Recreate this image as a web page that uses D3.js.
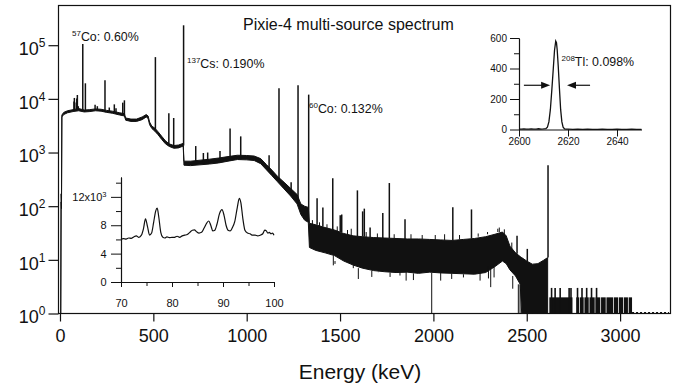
<!DOCTYPE html>
<html>
<head>
<meta charset="utf-8">
<script src="https://cdn.jsdelivr.net/npm/d3@7"></script>
<style>
body { margin: 0; background: #fff; }
svg { font-family: "Liberation Sans", Arial, sans-serif; }
</style>
</head>
<body>
<div id="chart"></div>
<script>
// Main spectrum continuum, read as a low / high envelope (keV, counts)
const bandE = [4, 6, 8, 10, 20, 40, 70, 100, 130, 160, 190, 220, 250, 280, 320, 345, 352, 380, 410, 440,
    462, 472, 480, 492, 508, 525, 545, 565, 585, 610, 635, 660, 664, 700, 750, 800, 850, 900, 950, 1000,
    1040, 1075, 1105, 1135, 1165, 1200, 1235, 1270, 1290, 1310, 1330, 1336, 1370, 1420, 1470, 1520, 1570, 1620, 1680, 1740,
    1800, 1860, 1920, 1980, 2040, 2100, 2160, 2220, 2280, 2330, 2370, 2390, 2410, 2440, 2465, 2473, 2500, 2530, 2560, 2590, 2612];
const bandLo = [1, 120, 90, 4600, 5100, 5500, 5800, 6000, 5700, 5800, 6000, 5900, 5600, 5400, 5000, 4800, 4000, 3800, 3800, 4100,
    4600, 4300, 3300, 2800, 2500, 2150, 1750, 1450, 1300, 1200, 1220, 1320, 580, 570, 590, 610, 640, 690, 740, 730,
    710, 620, 480, 370, 285, 210, 155, 110, 70, 55, 50, 17, 15, 13.5, 12, 9.5, 8, 7, 6.3, 6,
    5.8, 5.9, 5.6, 5.9, 5.7, 5.6, 5.5, 5.4, 5.8, 7.5, 9.5, 8.5, 6.5, 5, 3.5, 1, 1, 1, 1, 1, 1];
const bandHi = [1, 170, 120, 5000, 5600, 6000, 6300, 6600, 6200, 6300, 6500, 6400, 6100, 5900, 5500, 5300, 4400, 4200, 4200, 4600,
    5100, 4800, 3700, 3100, 2850, 2450, 2000, 1650, 1450, 1350, 1380, 1480, 690, 690, 720, 750, 790, 840, 890, 880,
    860, 770, 600, 470, 360, 280, 215, 165, 110, 100, 95, 48, 45, 40, 36, 31, 28, 27, 26, 25.5,
    25, 24.5, 24.5, 24, 23.5, 23, 24, 25, 27, 30, 33, 28, 18, 13.5, 11.5, 11, 9.5, 8.3, 8.5, 9.8, 11];

// Peaks: keV, base counts, top counts
const peaks = [[75, 6200, 8900], [77, 6200, 10400], [87, 6300, 8600], [90, 6300, 10200], [93, 6300, 11800], [98, 6400, 7300],
    [122, 6100, 105000], [136, 6000, 19500], [188, 6200, 7800], [200, 6200, 7300], [241, 6000, 22200], [264, 5800, 6900],
    [291, 5600, 7900], [300, 5500, 6650], [336, 5100, 8500], [345, 5000, 9400], [511, 2700, 60000], [583, 1350, 5400],
    [609, 1250, 4400], [662, 1350, 235000], [727, 600, 1320], [768, 620, 980], [791, 630, 1000], [857, 650, 1070],
    [911, 700, 2800], [968, 750, 2000], [1120, 450, 890], [1173, 290, 15800], [1238, 160, 280], [1275, 115, 18000],
    [1332, 50, 12000], [1377, 45, 140], [1408, 42, 95], [1461, 36, 330], [1501, 33, 68], [1509, 33, 70], [1593, 27, 197],
    [1621, 27, 80], [1630, 27, 90], [1661, 26, 40], [1729, 25.5, 75], [1764, 25.5, 270], [1848, 24.5, 57],
    [2104, 23, 96], [2204, 25, 87], [2448, 13, 28], [2503, 9.5, 16], [2614, 11, 580]];

// Noise excursions below / above the envelope: keV, counts
const dips = [[1464, 7.9], [1473, 8.4], [1571, 9.8], [1598, 4.4], [1670, 4.8], [1705, 5.9], [1768, 4.8], [1821, 5.1],
    [1854, 4.1], [1893, 4.2], [1937, 5.9], [1991, 1], [2039, 4.1], [2098, 4.4], [2161, 4.7], [2250, 4.1], [2295, 4.5],
    [2307, 3.1], [2325, 4.7], [2425, 2.9], [2455, 1], [2464, 1]];
const bumps = [[1352, 55], [1390, 50], [1430, 46], [1485, 42], [1540, 36], [1560, 38], [1640, 33], [1700, 31],
    [1790, 30], [1880, 30], [1940, 29], [2010, 29], [2060, 30], [2140, 29], [2240, 31], [2290, 33], [2345, 38],
    [2353, 40], [2380, 37], [2420, 21]];

// High-energy tail: channels with 3 counts, blocks of 1-2 counts
const tailBarsE = [2633, 2652, 2679, 2727, 2737, 2772, 2796, 2821, 2847, 2874];
const tailBlocks = [[2621, 2745], [2765, 2780], [2784, 2805], [2809, 2832], [2836, 2864], [2868, 2894],
    [2898, 2923], [2927, 2962], [2966, 2989], [2993, 3016], [3020, 3042], [3046, 3064]];
const tailEnd = [3064, 3262];

const xTicks = [0, 500, 1000, 1500, 2000, 2500, 3000];
const yTicks = [1, 10, 100, 1000, 10000, 100000];

// Inset: 208Tl peak
const tlE = [2600, 2601, 2602, 2603, 2604, 2605, 2606, 2607, 2608, 2609, 2610, 2611, 2611.6, 2612.2, 2612.8, 2613.4,
    2614.0, 2614.5, 2615.0, 2615.3, 2615.6, 2616.0, 2616.5, 2617.0, 2617.5, 2618.0, 2618.6, 2619.2, 2620, 2622, 2624,
    2626, 2628, 2630, 2632, 2634, 2636, 2638, 2640, 2642, 2644, 2646, 2648, 2650];
const tlCounts = [3, 2, 4, 3, 2, 4, 3, 2, 5, 3, 4, 6, 15, 50, 130, 260,
    400, 520, 580, 570, 520, 420, 270, 130, 50, 15, 4, 2, 2, 1, 2,
    1, 2, 1, 1, 2, 1, 1, 2, 1, 1, 2, 1, 1];
const tlTicks = [2600, 2620, 2640];
const tlCountTicks = [0, 200, 400, 600];

// Inset: 70-100 keV x-ray region
const lowE = [70.0, 70.5, 71.0, 71.5, 72.0, 72.5, 73.0, 73.5, 74.0, 74.4, 74.8, 75.2, 75.6, 76.0, 76.4, 76.8, 77.1, 77.4,
    77.8, 78.2, 78.6, 79.0, 79.5, 80.0, 80.5, 81.0, 81.5, 82.0, 82.5, 83.0, 83.5, 84.0, 84.4, 84.8, 85.3, 85.8, 86.3,
    86.8, 87.2, 87.6, 88.0, 88.4, 88.8, 89.3, 89.8, 90.2, 90.6, 91.0, 91.4, 91.8, 92.3, 92.8, 93.2, 93.5, 93.9, 94.3,
    94.8, 95.3, 95.8, 96.3, 96.8, 97.3, 97.8, 98.2, 98.5, 98.8, 99.1, 99.4, 99.7, 100.0];
const lowCounts = [6050, 6100, 6050, 6200, 6150, 6350, 6500, 6300, 6600, 7500, 8900, 7800, 6600, 6900, 8400, 10000, 10400, 9200,
    7000, 6300, 6200, 6350, 6250, 6300, 6300, 6450, 6300, 6500, 6600, 6700, 7000, 7300, 7350, 7100, 6900, 7000, 7600,
    8300, 8600, 8000, 7200, 7300, 8100, 9600, 10200, 9400, 8000, 7300, 7200, 7600, 8500, 10500, 11800, 11200, 8900, 7300,
    6900, 6800, 6600, 6600, 6500, 6600, 6800, 7300, 7200, 6900, 7000, 6800, 6900, 6600];
const lowTicks = [70, 80, 90, 100];
const lowCountTicks = [0, 4000, 8000, 12000];

const ink = "#111";
const plain = d3.format("d");

const svg = d3.select("#chart")
    .append("svg")
    .attr("width", 680)
    .attr("height", 390);

const x = d3.scaleLinear().domain([-8, 3270]).range([58.5, 670.5]);
const y = d3.scaleLog().domain([1, Math.pow(10, 5.74)]).range([313.5, 5.5]).clamp(true);

// Frame
svg.append("rect")
    .attr("x", x.range()[0])
    .attr("y", y.range()[1])
    .attr("width", x.range()[1] - x.range()[0])
    .attr("height", y.range()[0] - y.range()[1])
    .attr("fill", "none")
    .attr("stroke", ink)
    .attr("stroke-width", 1.2);

// Axes
const xAxis = svg.append("g")
    .attr("transform", `translate(0,${y.range()[0]})`)
    .call(d3.axisBottom(x).tickValues(xTicks).tickFormat(plain).tickSize(8).tickPadding(8).tickSizeOuter(0));
xAxis.select(".domain").remove();
xAxis.selectAll("line").attr("stroke", ink).attr("stroke-width", 1.2);
xAxis.selectAll("text")
    .style("font-family", "Liberation Sans, Arial, sans-serif")
    .style("font-size", "18px")
    .style("fill", ink);

const yAxis = svg.append("g")
    .attr("transform", `translate(${x.range()[0]},0)`)
    .call(d3.axisLeft(y).tickValues(yTicks).tickSize(10).tickPadding(3).tickSizeOuter(0).tickFormat(""));
yAxis.select(".domain").remove();
yAxis.selectAll("line").attr("stroke", ink).attr("stroke-width", 1.2);
yAxis.selectAll("text")
    .attr("dy", "0.52em")
    .style("font-family", "Liberation Sans, Arial, sans-serif")
    .style("font-size", "18px")
    .style("fill", ink)
    .each(function (d) {
        const t = d3.select(this).text("10");
        t.append("tspan")
            .attr("dy", -8)
            .style("font-size", "12px")
            .text(Math.round(Math.log10(d)));
    });

svg.append("text")
    .attr("x", 360)
    .attr("y", 379)
    .attr("text-anchor", "middle")
    .style("font-size", "21px")
    .style("fill", ink)
    .text("Energy (keV)");

svg.append("text")
    .attr("x", 243)
    .attr("y", 30)
    .style("font-size", "16px")
    .style("fill", ink)
    .text("Pixie-4 multi-source spectrum");

// Spectrum
const band = bandE.map((e, i) => ({ e, lo: bandLo[i], hi: bandHi[i] }));
const area = d3.area()
    .x(d => x(d.e))
    .y0(d => y(d.lo))
    .y1(d => y(d.hi));

const spec = svg.append("g");

spec.append("path")
    .datum(band)
    .attr("d", area)
    .attr("fill", ink)
    .attr("stroke", ink)
    .attr("stroke-width", 1)
    .attr("stroke-linejoin", "round");

const loAt = e => bandLo[Math.min(d3.bisectLeft(bandE, e), bandE.length - 1)];
const hiAt = e => bandHi[Math.min(d3.bisectLeft(bandE, e), bandE.length - 1)];

spec.selectAll(".dip")
    .data(dips)
    .enter()
    .append("line")
    .attr("class", "dip")
    .attr("x1", d => x(d[0])).attr("x2", d => x(d[0]))
    .attr("y1", d => y(loAt(d[0]))).attr("y2", d => y(d[1]))
    .attr("stroke", ink)
    .attr("stroke-width", 1);

spec.selectAll(".bump")
    .data(bumps)
    .enter()
    .append("line")
    .attr("class", "bump")
    .attr("x1", d => x(d[0])).attr("x2", d => x(d[0]))
    .attr("y1", d => y(hiAt(d[0]))).attr("y2", d => y(d[1]))
    .attr("stroke", ink)
    .attr("stroke-width", 1);

spec.selectAll(".peak")
    .data(peaks)
    .enter()
    .append("line")
    .attr("class", "peak")
    .attr("x1", d => x(d[0])).attr("x2", d => x(d[0]))
    .attr("y1", d => y(d[1])).attr("y2", d => y(d[2]))
    .attr("stroke", ink)
    .attr("stroke-width", 1.5);

spec.selectAll(".block")
    .data(tailBlocks)
    .enter()
    .append("rect")
    .attr("class", "block")
    .attr("x", d => x(d[0]))
    .attr("width", d => x(d[1]) - x(d[0]))
    .attr("y", y(2))
    .attr("height", y(1) - y(2))
    .attr("fill", ink);

spec.selectAll(".tbar")
    .data(tailBarsE)
    .enter()
    .append("line")
    .attr("class", "tbar")
    .attr("x1", d => x(d)).attr("x2", d => x(d))
    .attr("y1", y(1)).attr("y2", y(3))
    .attr("stroke", ink)
    .attr("stroke-width", 1.6);

spec.append("line")
    .attr("x1", x(tailEnd[0])).attr("x2", x(tailEnd[1]))
    .attr("y1", y(1.04)).attr("y2", y(1.04))
    .attr("stroke", ink)
    .attr("stroke-width", 1.2)
    .attr("stroke-dasharray", "2,2");

// Peak annotations
function note(px, py, iso, rest) {
    const t = svg.append("text")
        .attr("x", px)
        .attr("y", py)
        .style("fill", ink);
    t.append("tspan").attr("dy", -5).style("font-size", "8px").text(iso);
    t.append("tspan").attr("dy", 5).style("font-size", "12.4px").text(rest);
}
note(72, 41, "57", "Co: 0.60%");
note(187, 68, "137", "Cs: 0.190%");
note(309, 113, "60", "Co: 0.132%");
note(561.5, 66, "208", "Tl: 0.098%");

// Inset A: 2614 keV peak
const xa = d3.scaleLinear().domain([2600, 2650]).range([519, 641.5]);
const ya = d3.scaleLinear().domain([0, 600]).range([129.5, 38]);
const insA = svg.append("g");

function styleInset(g, size) {
    g.selectAll("line").attr("stroke", ink).attr("stroke-width", 1);
    g.select(".domain").attr("stroke", ink).attr("stroke-width", 1.1);
    g.selectAll("text")
        .style("font-family", "Liberation Sans, Arial, sans-serif")
        .style("font-size", size)
        .style("fill", ink);
}

const aY = insA.append("g")
    .attr("transform", `translate(${xa.range()[0]},0)`)
    .call(d3.axisLeft(ya).tickValues(tlCountTicks).tickFormat(plain).tickSize(9).tickPadding(3).tickSizeOuter(0));
styleInset(aY, "10px");
const aYm = insA.append("g")
    .attr("transform", `translate(${xa.range()[0]},0)`)
    .call(d3.axisLeft(ya).tickValues([100, 300, 500]).tickSize(5).tickFormat("").tickSizeOuter(0));
styleInset(aYm, "10px");
const aX = insA.append("g")
    .attr("transform", `translate(0,${ya.range()[0]})`)
    .call(d3.axisBottom(xa).tickValues(tlTicks).tickFormat(plain).tickSize(7).tickPadding(1).tickSizeOuter(0));
styleInset(aX, "10px");

insA.append("path")
    .datum(tlE.map((e, i) => [e, tlCounts[i]]))
    .attr("d", d3.line().x(d => xa(d[0])).y(d => ya(d[1])))
    .attr("fill", "none")
    .attr("stroke", ink)
    .attr("stroke-width", 1.3);

// FWHM arrows
function arrow(g, from, to, level) {
    const x0 = xa(from), x1 = xa(to), yy = ya(level);
    const dir = Math.sign(x1 - x0);
    g.append("line")
        .attr("x1", x0).attr("x2", x1 - dir * 6)
        .attr("y1", yy).attr("y2", yy)
        .attr("stroke", ink)
        .attr("stroke-width", 1.2);
    g.append("path")
        .attr("d", `M${x1},${yy}L${x1 - dir * 9},${yy - 3.5}L${x1 - dir * 9},${yy + 3.5}Z`)
        .attr("fill", ink);
}
arrow(insA, 2602, 2612.7, 290);
arrow(insA, 2629, 2619.6, 290);

// Inset B: 70-100 keV
const xb = d3.scaleLinear().domain([70, 100]).range([121, 274]);
const yb = d3.scaleLinear().domain([0, 14800]).range([282, 177]);
const insB = svg.append("g");

const bY = insB.append("g")
    .attr("transform", `translate(${xb.range()[0]},0)`)
    .call(d3.axisLeft(yb).tickValues(lowCountTicks).tickSize(10).tickPadding(4.5).tickSizeOuter(0)
        .tickFormat(d => d === 12000 ? "12x10" : d / 1000));
styleInset(bY, "11px");
bY.selectAll("text")
    .filter(d => d === 12000)
    .append("tspan")
    .attr("dy", -4)
    .style("font-size", "7.5px")
    .text("3");
const bYm = insB.append("g")
    .attr("transform", `translate(${xb.range()[0]},0)`)
    .call(d3.axisLeft(yb).tickValues([2000, 6000, 10000, 14000]).tickSize(5).tickFormat("").tickSizeOuter(0));
styleInset(bYm, "11px");
const bX = insB.append("g")
    .attr("transform", `translate(0,${yb.range()[0]})`)
    .call(d3.axisBottom(xb).tickValues(lowTicks).tickFormat(plain).tickSize(5).tickPadding(12).tickSizeOuter(0));
styleInset(bX, "11px");
const bXm = insB.append("g")
    .attr("transform", `translate(0,${yb.range()[0]})`)
    .call(d3.axisBottom(xb).tickValues([75, 85, 95]).tickSize(4).tickFormat("").tickSizeOuter(0));
styleInset(bXm, "11px");

insB.append("path")
    .datum(lowE.map((e, i) => [e, lowCounts[i]]))
    .attr("d", d3.line().curve(d3.curveMonotoneX).x(d => xb(d[0])).y(d => yb(d[1])))
    .attr("fill", "none")
    .attr("stroke", ink)
    .attr("stroke-width", 1.2);
</script>
</body>
</html>
